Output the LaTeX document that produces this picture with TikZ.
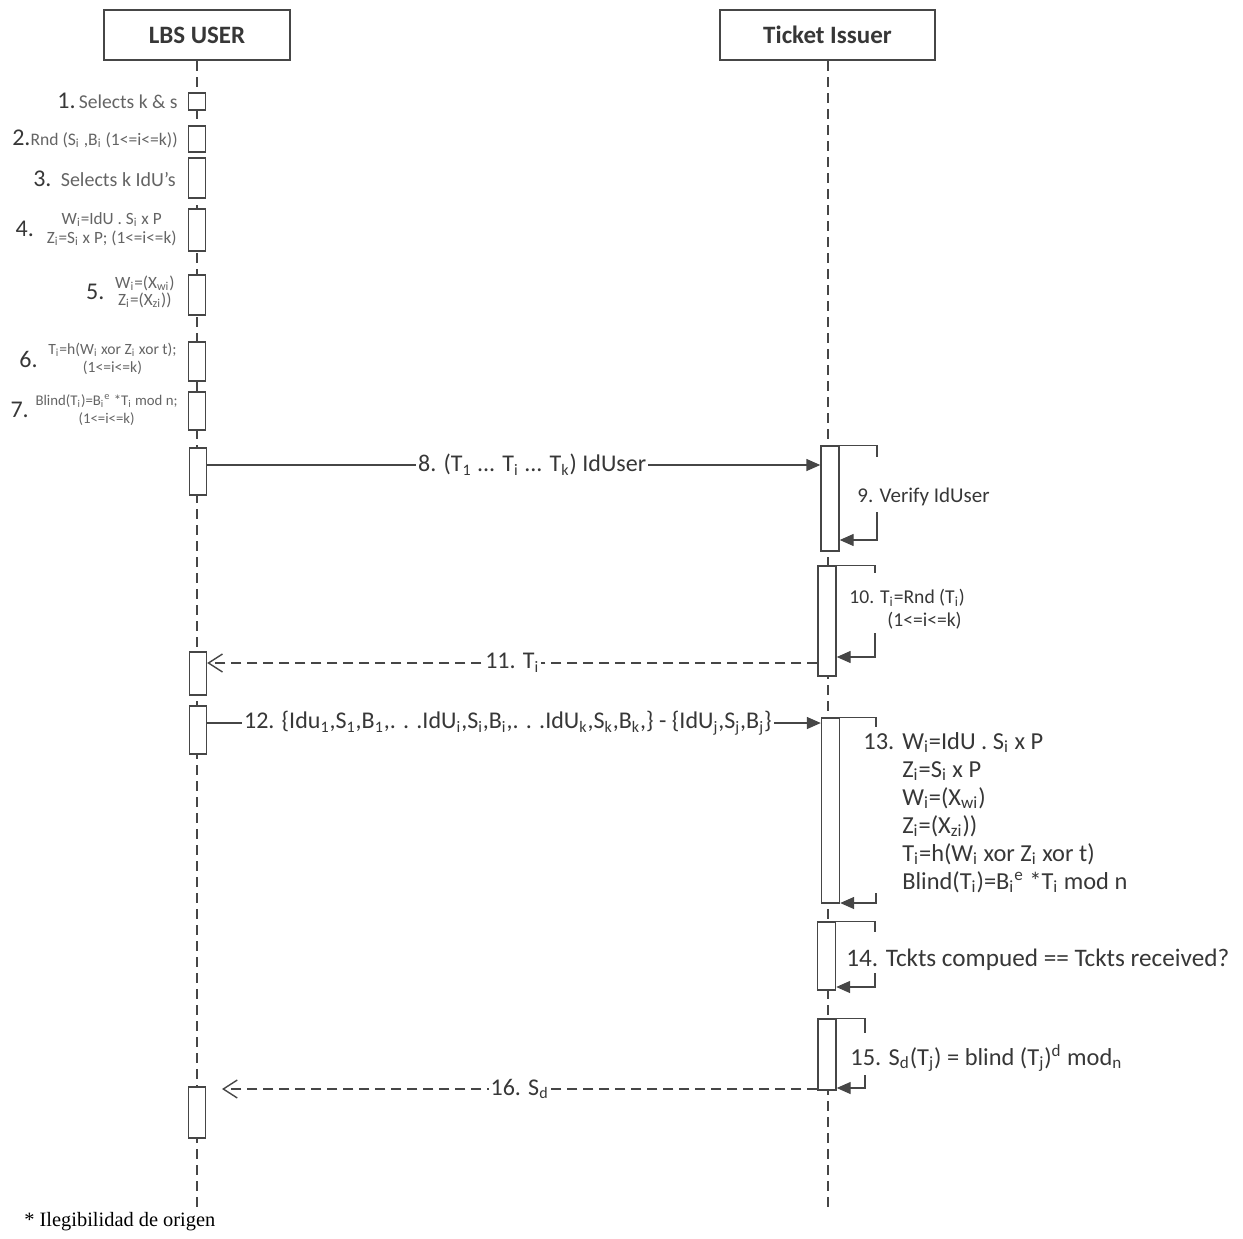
\documentclass[tikz,border=0pt]{standalone}
\usepackage{fontspec}
\setmainfont{Carlito}
\newfontfamily\timesfont{Liberation Serif}
\usetikzlibrary{arrows.meta,positioning}
\definecolor{linegray}{RGB}{70,70,70}
\definecolor{textgray}{RGB}{55,55,55}
\definecolor{fadegray}{RGB}{100,100,100}

\begin{document}
\begin{tikzpicture}[x=0.5pt, y=-0.5pt,
	actor/.style={draw=linegray, line width=1pt, fill=white, minimum height=25pt, text=textgray, font=\fontsize{12.5}{14}\selectfont\bfseries},
	lifeline/.style={draw=linegray, line width=1pt, dash pattern=on 5pt off 3pt},
	bar/.style={draw=linegray, line width=0.7pt, fill=white, minimum width=8.5pt, inner sep=0pt},
	msg/.style={draw=linegray, line width=0.7pt, -{Triangle[length=7pt,width=6pt]}},
	reply/.style={draw=linegray, line width=0.7pt, dash pattern=on 5pt off 3pt, -{Straight Barb[length=7pt,width=9pt]}},
	loopline/.style={draw=linegray, line width=0.7pt},
	tag/.style={fill=white, inner sep=1pt, text=textgray, font=\fontsize{12}{13}\selectfont},
	note/.style={inner sep=0pt, text=textgray, font=\fontsize{12.2}{14}\selectfont},
	steptext/.style={inner sep=0pt, text=fadegray, font=\fontsize{7.8}{9}\selectfont},
	stepnum/.style={inner sep=0pt, text=textgray, font=\fontsize{12}{13}\selectfont}
	]

	\useasboundingbox (0,0) rectangle (1243,1238);

	% actors and lifelines
	\node[actor, minimum width=93pt] (user) at (197,35) {LBS USER};
	\node[actor, minimum width=107.5pt] (issuer) at (827.5,35) {Ticket Issuer};
	\coordinate (userend) at (197,1208);
	\coordinate (issuerend) at (827.5,1208);
	\draw[lifeline] (user.south) -- (userend);
	\draw[lifeline] (issuer.south) -- (issuerend);

	% activation bars, LBS user
	\node[bar, minimum height=8.5pt] (u1) at (197,101.5) {};
	\node[bar, minimum height=13pt] (u2) at (197,139) {};
	\node[bar, minimum height=20pt] (u3) at (197,178) {};
	\node[bar, minimum height=21pt] (u4) at (197,230) {};
	\node[bar, minimum height=20pt] (u5) at (197,295) {};
	\node[bar, minimum height=19.5pt] (u6) at (197,361.5) {};
	\node[bar, minimum height=19pt] (u7) at (197,411) {};
	\node[bar, minimum height=23.5pt] (u8) at (198,471.5) {};
	\node[bar, minimum height=21.5pt] (u11) at (198,673.5) {};
	\node[bar, minimum height=24pt] (u12) at (198,730) {};
	\node[bar, minimum height=25.5pt] (u16) at (197,1112.5) {};

	% activation bars, ticket issuer
	\node[bar, minimum width=9pt, minimum height=52.5pt] (t9) at (830,498.5) {};
	\node[bar, minimum width=9pt, minimum height=55pt] (t10) at (827,621) {};
	\node[bar, minimum width=9pt, minimum height=92.5pt] (t13) at (830.5,810.5) {};
	\node[bar, minimum width=9pt, minimum height=34pt] (t14) at (826.5,956) {};
	\node[bar, minimum width=9pt, minimum height=35.5pt] (t15) at (827,1054.5) {};

	% local steps of the user
	\node[steptext, anchor=east, font=\fontsize{9.8}{11}\selectfont] (s1) at (178,101) {{\color{textgray}\fontsize{12}{13}\selectfont 1.}\,Selects k \& s};
	\node[steptext, anchor=east, font=\fontsize{8.8}{10}\selectfont] (s2) at (178,139) {{\color{textgray}\fontsize{12}{13}\selectfont 2.}Rnd (S\textsubscript{i} ,B\textsubscript{i} (1<=i<=k))};
	\node[steptext, anchor=east, font=\fontsize{10}{11}\selectfont] (s3) at (176,179) {{\color{textgray}\fontsize{12}{13}\selectfont 3.}\, Selects k IdU's};

	\node[steptext, anchor=east, align=center, font=\fontsize{8.6}{9.5}\selectfont] (s4) at (177,229) {W\textsubscript{i}=IdU . S\textsubscript{i} x P\\Z\textsubscript{i}=S\textsubscript{i} x P; (1<=i<=k)};
	\node[stepnum, left=6pt of s4] (n4) {4.};
	\node[steptext, anchor=east, align=center, font=\fontsize{8.6}{8.5}\selectfont] (s5) at (175,292) {W\textsubscript{i}=(X\textsubscript{wi})\\Z\textsubscript{i}=(X\textsubscript{zi}))};
	\node[stepnum, left=5pt of s5] (n5) {5.};
	\node[steptext, anchor=east, align=center] (s6) at (177,359) {T\textsubscript{i}=h(W\textsubscript{i} xor Z\textsubscript{i} xor t);\\(1<=i<=k)};
	\node[stepnum, left=5pt of s6] (n6) {6.};
	\node[steptext, anchor=east, align=center, font=\fontsize{7.4}{9}\selectfont] (s7) at (178,410) {Blind(T\textsubscript{i})=B\textsubscript{i}\textsuperscript{e} *T\textsubscript{i} mod n;\\(1<=i<=k)};
	\node[stepnum, left=3pt of s7] (n7) {7.};

	% 8. tickets to the issuer
	\coordinate (m8) at (0,465);
	\draw[msg] (u8.east |- m8) -- node[tag, pos=0.53] {8. (T\textsubscript{1} ... T\textsubscript{i} ... T\textsubscript{k}) IdUser} (t9.west |- m8);

	% 9. self check
	\coordinate (r9) at (877,540);
	\draw[loopline] (t9.north east) -- (t9.north east -| r9) -- ++(0,12);
	\draw[msg] (r9) ++(0,-28) -- (r9) -- (t9.east |- r9);
	\node[note, anchor=west, font=\fontsize{10.5}{12}\selectfont] (l9) at (857,497) {9. Verify IdUser};

	% 10. random pick
	\coordinate (r10) at (875,657);
	\draw[loopline] (t10.north east) -- (t10.north east -| r10) -- ++(0,8);
	\draw[msg] (r10) ++(0,-24) -- (r10) -- (t10.east |- r10);
	\node[note, anchor=west, align=left, font=\fontsize{9.8}{11.5}\selectfont] (l10) at (849,609) {10. T\textsubscript{i}=Rnd (T\textsubscript{i})\\\hspace{19pt}(1<=i<=k)};

	% 11. answer to the user
	\coordinate (m11) at (0,663);
	\draw[reply] (t10.west |- m11) -- node[tag] {11. T\textsubscript{i}} (u11.east |- m11);

	% 12. all but the picked ticket
	\coordinate (m12) at (0,723);
	\draw[msg] (u12.east |- m12) -- node[tag, pos=0.49] {12. \{Idu\textsubscript{1},S\textsubscript{1},B\textsubscript{1},. . .IdU\textsubscript{i},S\textsubscript{i},B\textsubscript{i},. . .IdU\textsubscript{k},S\textsubscript{k},B\textsubscript{k},\} - \{IdU\textsubscript{j},S\textsubscript{j},B\textsubscript{j}\}} (t13.west |- m12);

	% 13. recomputation
	\coordinate (r13) at (876,903);
	\draw[loopline] (t13.north east) -- (t13.north east -| r13) -- ++(0,10);
	\draw[msg] (r13) ++(0,-10) -- (r13) -- (t13.east |- r13);
	\node[note, anchor=base west] (l13) at (863,749) {\begin{tabular}[t]{@{}l@{\hspace{4pt}}l@{}}
		13. & W\textsubscript{i}=IdU . S\textsubscript{i} x P\\
		& Z\textsubscript{i}=S\textsubscript{i} x P\\
		& W\textsubscript{i}=(X\textsubscript{wi})\\
		& Z\textsubscript{i}=(X\textsubscript{zi}))\\
		& T\textsubscript{i}=h(W\textsubscript{i} xor Z\textsubscript{i} xor t)\\
		& Blind(T\textsubscript{i})=B\textsubscript{i}\textsuperscript{e} *T\textsubscript{i} mod n
	\end{tabular}};

	% 14. comparison
	\coordinate (r14) at (875,987);
	\draw[loopline] (t14.north east) -- (t14.north east -| r14) -- ++(0,11);
	\draw[msg] (r14) ++(0,-14) -- (r14) -- (t14.east |- r14);
	\node[note, anchor=west, font=\fontsize{12.6}{14}\selectfont] (l14) at (846,960) {14. Tckts compued == Tckts received?};

	% 15. signature
	\coordinate (r15) at (865,1088);
	\draw[loopline] (t15.north east) -- (t15.north east -| r15) -- ++(0,15);
	\draw[msg] (r15) ++(0,-13) -- (r15) -- (t15.east |- r15);
	\node[note, anchor=west] (l15) at (850,1058) {15. S\textsubscript{d}(T\textsubscript{j}) = blind (T\textsubscript{j})\textsuperscript{d} mod\textsubscript{n}};

	% 16. signed ticket back
	\coordinate (m16) at (0,1089);
	\coordinate (e16) at (222,1089);
	\draw[reply] (t15.west |- m16) -- node[tag] {16. S\textsubscript{d}} (e16);

	% source remark
	\node[anchor=west, inner sep=0pt, font=\timesfont\fontsize{10.2}{12}\selectfont] (remark) at (24,1222) {* Ilegibilidad de origen};

\end{tikzpicture}
\end{document}
